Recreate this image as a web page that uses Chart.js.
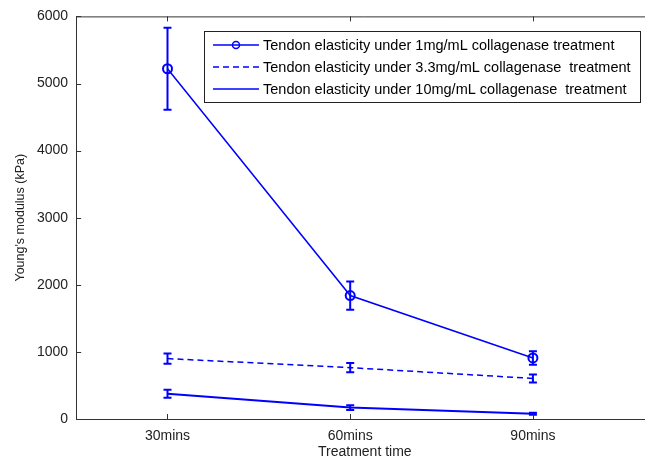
<!DOCTYPE html>
<html>
<head>
<meta charset="utf-8">
<script src="https://cdn.jsdelivr.net/npm/chart.js@4/dist/chart.umd.min.js"></script>
<style>
  html, body { margin: 0; padding: 0; background: #fff; overflow: hidden; }
  #wrap { width: 645px; height: 461px; overflow: hidden; }
</style>
</head>
<body>
<div id="wrap"><canvas id="myChart" width="660" height="461"></canvas></div>
<script>
const timeLabels = ['30mins', '60mins', '90mins'];
const timePos = [1, 2, 3];

const labels = [
    'Tendon elasticity under 1mg/mL collagenase treatment',
    'Tendon elasticity under 3.3mg/mL collagenase  treatment',
    'Tendon elasticity under 10mg/mL collagenase  treatment'
];
const mean1 = [5220, 1840, 910];
const err1 = [610, 210, 100];
const mean2 = [900, 765, 605];
const err2 = [75, 70, 60];
const mean3 = [375, 170, 80];
const err3 = [60, 35, 15];

const yTicks = [0, 1000, 2000, 3000, 4000, 5000, 6000];

const blue = '#0000ff';
const font = "'Liberation Sans', Arial, sans-serif";

function points(means) {
    return means.map((v, i) => ({x: timePos[i], y: v}));
}

const errs = [err1, err2, err3];

// error bars, inward ticks, top border and the legend box
const extras = {
    id: 'extras',
    afterDatasetsDraw(chart) {
        const ctx = chart.ctx;
        const xs = chart.scales.x;
        const ys = chart.scales.y;
        const area = chart.chartArea;
        ctx.save();

        // error bars
        chart.data.datasets.forEach((ds, di) => {
            ctx.strokeStyle = blue;
            ctx.lineWidth = 2;
            ctx.setLineDash([]);
            ds.data.forEach((p, i) => {
                const px = xs.getPixelForValue(p.x);
                const top = ys.getPixelForValue(p.y + errs[di][i]);
                const bot = ys.getPixelForValue(p.y - errs[di][i]);
                ctx.beginPath();
                ctx.moveTo(px, top); ctx.lineTo(px, bot);
                ctx.moveTo(px - 4, top); ctx.lineTo(px + 4, top);
                ctx.moveTo(px - 4, bot); ctx.lineTo(px + 4, bot);
                ctx.stroke();
            });
        });

        // box top line and inward ticks
        ctx.strokeStyle = '#333';
        ctx.lineWidth = 1;
        ctx.beginPath();
        ctx.moveTo(area.left, area.top + 0.5);
        ctx.lineTo(area.right, area.top + 0.5);
        timePos.forEach(v => {
            const px = Math.round(xs.getPixelForValue(v)) + 0.5;
            ctx.moveTo(px, area.bottom); ctx.lineTo(px, area.bottom - 5);
            ctx.moveTo(px, area.top); ctx.lineTo(px, area.top + 5);
        });
        yTicks.forEach(v => {
            const py = Math.round(ys.getPixelForValue(v)) + 0.5;
            ctx.moveTo(area.left, py); ctx.lineTo(area.left + 5, py);
        });
        ctx.stroke();

        // legend
        const lx = 204, ly = 31, lw = 436, lh = 71;
        ctx.fillStyle = '#fff';
        ctx.fillRect(lx, ly, lw, lh);
        ctx.strokeStyle = '#222';
        ctx.strokeRect(lx + 0.5, ly + 0.5, lw, lh);
        ctx.font = '14.5px ' + font;
        ctx.textBaseline = 'middle';
        chart.data.datasets.forEach((ds, i) => {
            const ry = ly + 14 + i * 22;
            ctx.strokeStyle = blue;
            ctx.lineWidth = 1.5;
            ctx.setLineDash(ds.borderDash || []);
            ctx.beginPath();
            ctx.moveTo(lx + 9, ry); ctx.lineTo(lx + 55, ry);
            ctx.stroke();
            ctx.setLineDash([]);
            if (ds.pointRadius > 0) {
                ctx.beginPath();
                ctx.arc(lx + 32, ry, 3.5, 0, Math.PI * 2);
                ctx.stroke();
            }
            ctx.fillStyle = '#000';
            ctx.fillText(ds.label, lx + 59, ry + 1);
        });
        ctx.restore();
    }
};

const data = {
    datasets: [
        {
            label: labels[0],
            data: points(mean1),
            borderColor: blue,
            borderWidth: 1.5,
            pointStyle: 'circle',
            pointRadius: 4.5,
            pointBorderWidth: 2,
            pointBorderColor: blue,
            pointBackgroundColor: 'rgba(0,0,0,0)'
        },
        {
            label: labels[1],
            data: points(mean2),
            borderColor: blue,
            borderWidth: 1.5,
            borderDash: [6, 4],
            pointRadius: 0
        },
        {
            label: labels[2],
            data: points(mean3),
            borderColor: blue,
            borderWidth: 2,
            pointRadius: 0
        }
    ]
};

const options = {
    responsive: false,
    animation: false,
    layout: {padding: {top: 12, right: 0, left: 8, bottom: 0}},
    plugins: {
        legend: {display: false},
        tooltip: {enabled: false}
    },
    scales: {
        x: {
            type: 'linear',
            min: 0.5,
            max: 3.66,
            afterBuildTicks: axis => { axis.ticks = timePos.map(v => ({value: v})); },
            ticks: {
                callback: v => timeLabels[timePos.indexOf(v)] || '',
                color: '#222',
                font: {family: font, size: 14, lineHeight: 1},
                padding: 10,
                maxRotation: 0
            },
            grid: {display: false, drawTicks: false},
            border: {display: true, color: '#333', width: 1},
            title: {
                display: true,
                text: 'Treatment time',
                color: '#222',
                font: {family: font, size: 14, lineHeight: 1},
                padding: {top: -8, bottom: 2}
            }
        },
        y: {
            min: 0,
            max: 6000,
            afterBuildTicks: axis => { axis.ticks = yTicks.map(v => ({value: v})); },
            ticks: {
                callback: v => String(v),
                color: '#222',
                font: {family: font, size: 14},
                padding: 8
            },
            grid: {display: false, drawTicks: false},
            border: {display: true, color: '#333', width: 1},
            title: {
                display: true,
                text: "Young's modulus (kPa)",
                color: '#222',
                font: {family: font, size: 12.5},
                padding: {top: 5, bottom: 1}
            }
        }
    }
};

new Chart(document.getElementById('myChart'), {
    type: 'line',
    data,
    options,
    plugins: [extras]
});
</script>
</body>
</html>
